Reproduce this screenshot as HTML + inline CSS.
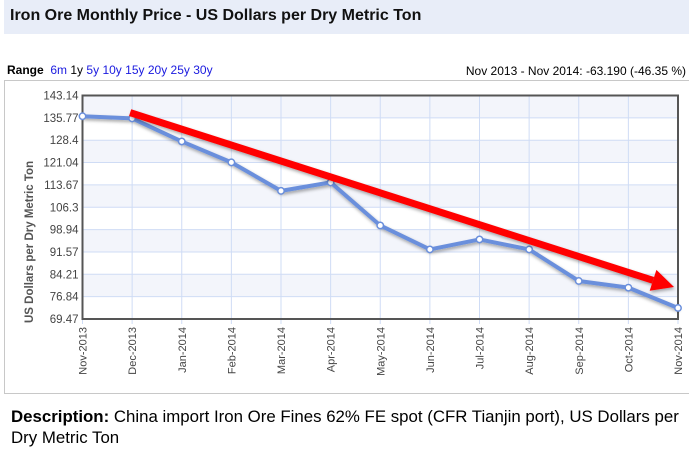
<!DOCTYPE html>
<html><head><meta charset="utf-8"><style>
body{margin:0;width:689px;height:449px;background:#fff;font-family:"Liberation Sans",Arial,sans-serif;position:relative;overflow:hidden}
.hdr{position:absolute;left:4px;top:0;width:685px;height:34px;background:#e8edf8}
.hdr span{position:absolute;left:6px;top:7px;font-size:16px;font-weight:bold;color:#111;white-space:nowrap}
.range{position:absolute;left:7px;top:63px;font-size:12px;color:#000;white-space:nowrap}
.range a{color:#1a1adf;text-decoration:none}
.chg{position:absolute;right:3px;top:64px;font-size:12px;color:#000;white-space:nowrap}
.frame{position:absolute;left:4px;top:80px;width:690px;height:312px;border:1px solid #c8c8c8;border-right:none}
.desc{position:absolute;left:11px;top:406px;font-size:17px;line-height:21px;color:#000;white-space:nowrap;transform:scaleX(0.99);transform-origin:0 0}
</style></head><body>
<div class="hdr"><span>Iron Ore Monthly Price - US Dollars per Dry Metric Ton</span></div>
<div class="range"><b>Range</b>&nbsp; <a>6m</a> <span>1y</span> <a>5y</a> <a>10y</a> <a>15y</a> <a>20y</a> <a>25y</a> <a>30y</a></div>
<div class="chg">Nov 2013 - Nov 2014: -63.190 (-46.35 %)</div>
<div class="frame"></div>
<svg id="chart" width="689" height="449" style="position:absolute;left:0;top:0"></svg>
<div class="desc"><b>Description:</b> China import Iron Ore Fines 62% FE spot (CFR Tianjin port), US Dollars per<br>Dry Metric Ton</div>
<script>
const categories=["Nov-2013","Dec-2013","Jan-2014","Feb-2014","Mar-2014","Apr-2014","May-2014","Jun-2014","Jul-2014","Aug-2014","Sep-2014","Oct-2014","Nov-2014"];
const prices=[136.3,135.6,128.0,121.1,111.7,114.5,100.3,92.4,95.7,92.4,82.0,79.8,73.1];
const yTicks=[69.47,76.84,84.21,91.57,98.94,106.3,113.67,121.04,128.4,135.77,143.14];
const trendStart=[1,137.5];
const trendEnd=[12,80.0];
const NS="http://www.w3.org/2000/svg";
const svg=document.getElementById('chart');
const L=82.5,R=678,T=95.5,B=319;
const yMin=69.47,yMax=143.14;
function xs(i){return L+(R-L)*i/(categories.length-1);}
function ys(v){return B-(v-yMin)/(yMax-yMin)*(B-T);}
function mk(tag,attrs,parent){const e=document.createElementNS(NS,tag);for(const k in attrs)e.setAttribute(k,attrs[k]);(parent||svg).appendChild(e);return e;}
const defs=mk('defs',{});
const f=mk('filter',{id:'sh',x:'-5%',y:'-20%',width:'110%',height:'140%'},defs);
mk('feDropShadow',{dx:'1',dy:'2',stdDeviation:'1.5','flood-color':'#000','flood-opacity':'0.35'},f);
for(let i=0;i<yTicks.length-1;i++){
  if(i%2===1){const r=mk('rect',{x:L,y:ys(yTicks[i+1]),width:R-L,height:ys(yTicks[i])-ys(yTicks[i+1]),fill:'#f3f5fb'});
  
  }
}
yTicks.forEach(v=>{const l=mk('line',{x1:L,x2:R,y1:ys(v),y2:ys(v),stroke:'#cfdcf5','stroke-width':1});


const t=mk('text',{x:L-4,y:ys(v)+4,'text-anchor':'end','font-size':'11.5','fill':'#444','font-family':'Liberation Sans, sans-serif'});
t.textContent=v;

});
categories.forEach((c,i)=>{const l=mk('line',{x1:xs(i),x2:xs(i),y1:T,y2:B+5,stroke:'#cfdcf5','stroke-width':1});


const t=mk('text',{x:0,y:0,transform:`translate(${xs(i)+4},${B+8}) rotate(-90)`,'text-anchor':'end','font-size':'11','fill':'#444','font-family':'Liberation Sans, sans-serif'});
t.textContent=c;

});
const ax=mk('rect',{x:L,y:T,width:R-L,height:B-T,fill:'none',stroke:'#555','stroke-width':2});


const yt=mk('text',{x:0,y:0,transform:`translate(33,323) rotate(-90)`,'text-anchor':'start','font-size':'11.5','font-weight':'bold','fill':'#555','font-family':'Liberation Sans, sans-serif'});
yt.textContent='US Dollars per Dry Metric Ton';


const pts=prices.map((v,i)=>xs(i)+','+ys(v)).join(' ');
const pl=mk('polyline',{points:pts,fill:'none',stroke:'#6a8fdc','stroke-width':4,'stroke-linejoin':'round',filter:'url(#sh)'});


prices.forEach((v,i)=>{const c=mk('circle',{cx:xs(i),cy:ys(v),r:3.2,fill:'#fff',stroke:'#6a8fdc','stroke-width':1.5});

});
const x1=xs(trendStart[0])-2,y1=ys(trendStart[1]),x2=xs(trendEnd[0])-4,y2=ys(trendEnd[1]);
const ang=Math.atan2(y2-y1,x2-x1),hl=22,hw=11;
const bx=x2-hl*Math.cos(ang),by=y2-hl*Math.sin(ang);
const g=mk('g',{filter:'url(#sh)'});


mk('line',{x1:x1,y1:y1,x2:bx,y2:by,stroke:'#f00','stroke-width':7},g);
mk('polygon',{points:`${x2},${y2} ${bx+hw*Math.sin(ang)},${by-hw*Math.cos(ang)} ${bx-hw*Math.sin(ang)},${by+hw*Math.cos(ang)}`,fill:'#f00'},g);
</script>
</body></html>
